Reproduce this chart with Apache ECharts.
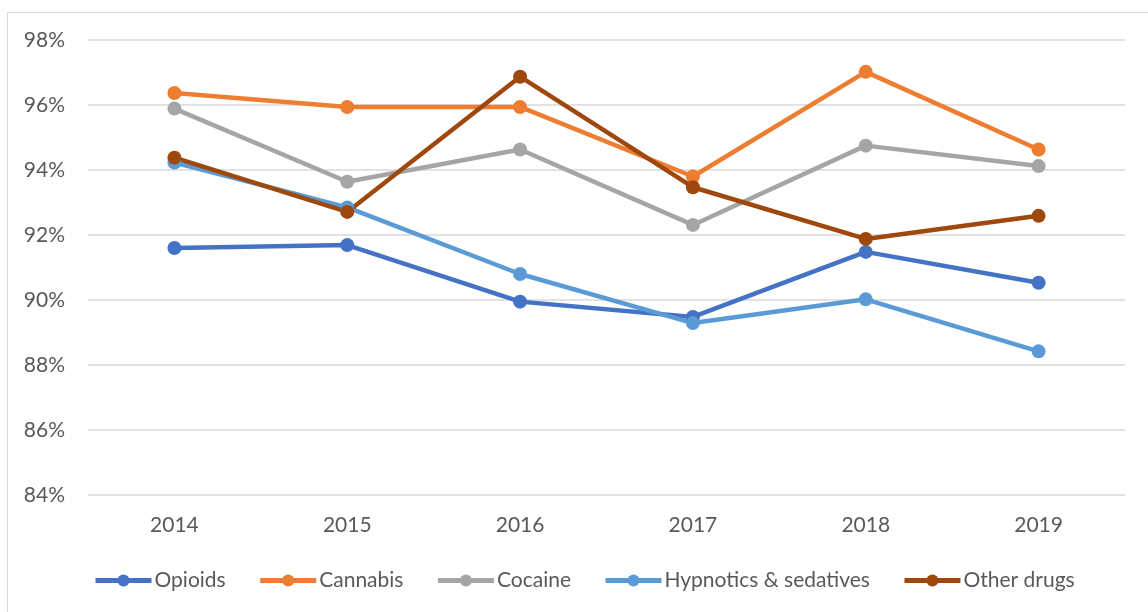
<!DOCTYPE html>
<html>
<head>
<meta charset="utf-8">
<script src="https://cdn.jsdelivr.net/npm/echarts@6/dist/echarts.min.js"></script>
<style>
html,body{margin:0;padding:0;background:#fff;}
#frame{position:absolute;left:7px;top:12px;width:1160px;height:620px;border:1px solid #d9d9d9;box-sizing:border-box;}
#chart{position:absolute;left:0;top:0;width:1148px;height:612px;}
</style>
</head>
<body>
<div id="frame"></div>
<div id="chart"></div>
<script>
const categories = ['2014','2015','2016','2017','2018','2019'];
const opioids = [91.6, 91.69, 89.95, 89.48, 91.48, 90.53];
const cannabis = [96.37, 95.94, 95.94, 93.8, 97.02, 94.63];
const cocaine = [95.89, 93.64, 94.63, 92.31, 94.75, 94.12];
const hypnotics = [94.23, 92.85, 90.8, 89.29, 90.02, 88.42];
const otherDrugs = [94.38, 92.71, 96.87, 93.47, 91.88, 92.59];
const seriesNames = ['Opioids','Cannabis','Cocaine','Hypnotics & sedatives','Other drugs'];
const colors = ['#4472C4','#ED7D31','#A5A5A5','#5B9BD5','#9E480E'];
const allData = [opioids, cannabis, cocaine, hypnotics, otherDrugs];

const font = 'Lato, "Open Sans", sans-serif';
const chart = echarts.init(document.getElementById('chart'));
chart.setOption({
  animation: false,
  grid: {left: 88, right: 23, top: 40, bottom: 117},
  legend: {
    top: 565,
    left: 88,
    itemWidth: 56,
    itemHeight: 15,
    itemGap: 32,
    lineStyle: {width: 5},
    textStyle: {fontFamily: font, fontSize: 21, color: '#595959', padding: [0,0,0,-2]},
    data: seriesNames
  },
  xAxis: {
    type: 'category',
    data: categories,
    boundaryGap: true,
    axisLine: {show: false},
    axisTick: {show: false},
    axisLabel: {fontFamily: font, fontSize: 21, color: '#595959', margin: 20}
  },
  yAxis: {
    type: 'value',
    min: 84, max: 98, interval: 2,
    axisLine: {show: false},
    axisTick: {show: false},
    axisLabel: {fontFamily: font, fontSize: 21, color: '#595959', margin: 23, formatter: v => v + '%'},
    splitLine: {lineStyle: {color: '#d9d9d9', width: 1.5}}
  },
  series: allData.map((d, i) => ({
    name: seriesNames[i],
    type: 'line',
    data: d,
    color: colors[i],
    symbol: 'circle',
    symbolSize: 14,
    lineStyle: {width: 4.5, color: colors[i]},
    itemStyle: {color: colors[i]}
  }))
});
</script>
</body>
</html>
